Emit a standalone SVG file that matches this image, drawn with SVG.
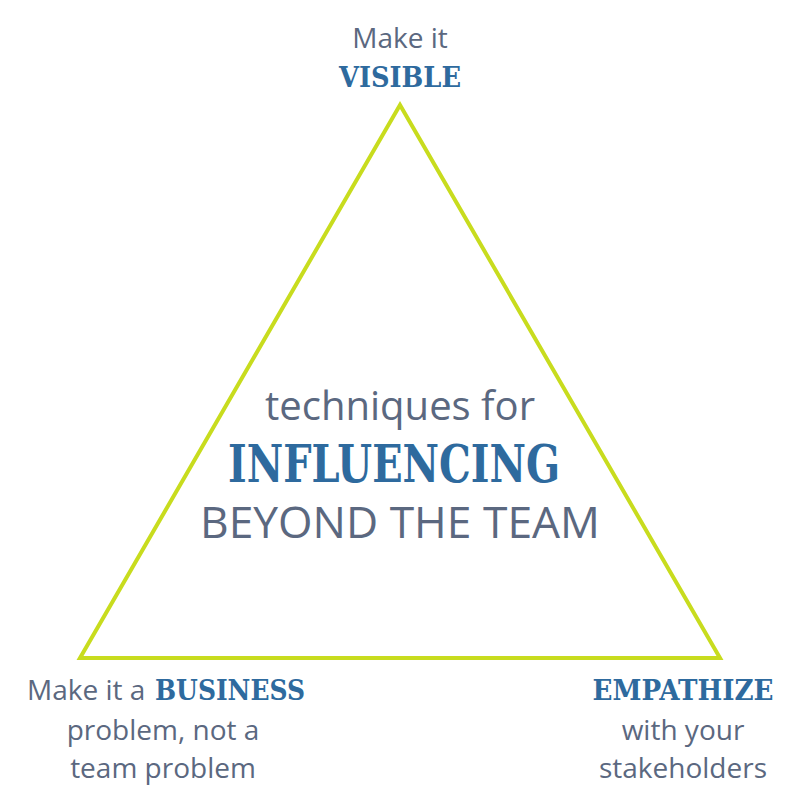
<svg xmlns="http://www.w3.org/2000/svg" width="800" height="800" viewBox="0 0 800 800">
<style>
.s{font-family:"Open Sans","Noto Sans",sans-serif;fill:#5b6880;text-anchor:middle}
.b{font-family:"DejaVu Serif","Liberation Serif",serif;font-weight:bold;fill:#2e6a9e;text-anchor:middle}
</style>
<rect width="800" height="800" fill="#ffffff"/>
<g id="connectors">
<polygon points="400,105 80,658 720,658" fill="none" stroke="#c8dc1e" stroke-width="4" stroke-linejoin="miter"/>
</g>
<g id="top">
<text class="s" x="400" y="48" font-size="28">Make it</text>
<text class="b" x="400" y="87" font-size="28" textLength="122" lengthAdjust="spacingAndGlyphs">VISIBLE</text>
</g>
<g id="center">
<text class="s" x="400" y="420" font-size="40" textLength="270" lengthAdjust="spacingAndGlyphs">techniques for</text>
<text class="b" x="394" y="482" font-size="52" textLength="332" lengthAdjust="spacingAndGlyphs">INFLUENCING</text>
<text class="s" x="400" y="538" font-size="44" textLength="400" lengthAdjust="spacingAndGlyphs">BEYOND THE TEAM</text>
</g>
<g id="bottom-left">
<text class="s" x="27" y="700" font-size="28" style="text-anchor:start">Make it a</text>
<text class="b" x="155" y="700" font-size="28" style="text-anchor:start" textLength="150" lengthAdjust="spacingAndGlyphs">BUSINESS</text>
<text class="s" x="163" y="740" font-size="28">problem, not a</text>
<text class="s" x="163" y="778" font-size="28">team problem</text>
</g>
<g id="bottom-right">
<text class="b" x="683" y="700" font-size="28" textLength="181" lengthAdjust="spacingAndGlyphs">EMPATHIZE</text>
<text class="s" x="683" y="740" font-size="28">with your</text>
<text class="s" x="683" y="778" font-size="28">stakeholders</text>
</g>
</svg>
